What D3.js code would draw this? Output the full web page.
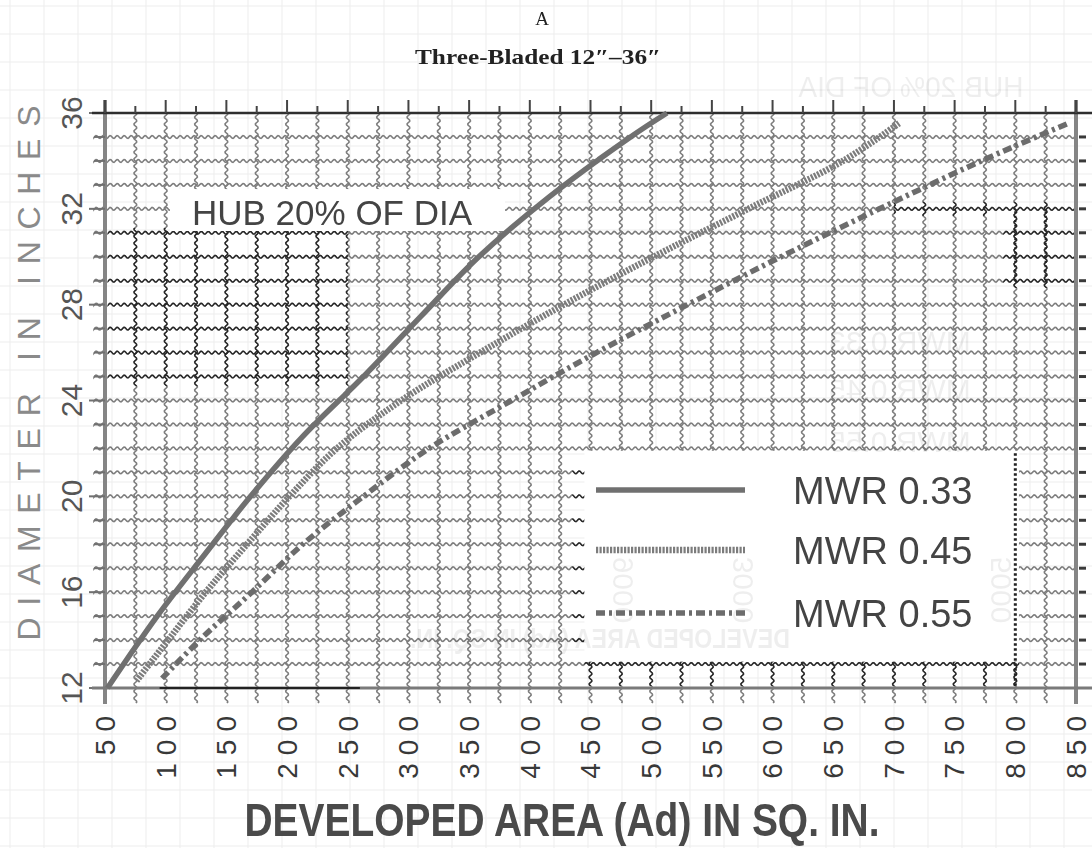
<!DOCTYPE html>
<html>
<head>
<meta charset="utf-8">
<script src="https://cdn.jsdelivr.net/npm/d3@7"></script>
<style>
  html, body { margin: 0; padding: 0; background: #fff; }
  svg { display: block; }
</style>
</head>
<body>
<svg id="chart" width="1092" height="848"></svg>
<script>
// Developed blade area against diameter, three-bladed propellers 12"–36"

// Tick labels
const areaTicks = [50, 100, 150, 200, 250, 300, 350, 400, 450, 500, 550, 600, 650, 700, 750, 800, 850];
const diameterTicks = [12, 16, 20, 24, 28, 32, 36];

// Series: diameter (in) and developed area (sq in) for each mean width ratio
const seriesNames = ["MWR 0.33", "MWR 0.45", "MWR 0.55"];
const mwr033Diameter = [12, 15, 17.5, 20, 22.5, 25, 27.5, 30, 32.5, 35, 36];
const mwr033Area     = [52, 93, 131, 170, 213, 263, 310, 358, 416, 483, 513];
const mwr045Diameter = [12.3, 14, 16, 18, 20, 22, 24, 26, 28, 30, 32, 34, 35.6];
const mwr045Area     = [76, 102, 133, 167, 202, 241, 294, 359, 428, 502, 580, 658, 705];
const mwr055Diameter = [12.4, 14, 16, 18, 20, 22, 24, 26, 28, 30, 32, 34, 35.6];
const mwr055Area     = [97, 128, 171, 213, 263, 317, 385, 455, 530, 607, 688, 772, 845];

const hubNote = "HUB 20% OF DIA";
const titleTop = "A";
const titleSub = "Three-Bladed 12\u2033\u201336\u2033";
const xTitle = "DEVELOPED AREA (Ad) IN SQ. IN.";
const yTitle = "DIAMETER IN  INCHES";

const svg = d3.select("#chart");
const W = 1092, H = 848;
const sans = "'Liberation Sans', Arial, sans-serif";

const x = d3.scaleLinear().domain([50, 850]).range([105, 1076]);
const y = d3.scaleLinear().domain([12, 36]).range([688, 113]);

const gridArea = d3.range(75, 850, 25);
const gridDia = d3.range(13, 36, 1);
const allDia = d3.range(12, 37, 1);
const allArea = d3.range(50, 851, 25);

// wavy line builders for the graph-paper rules
function waveH(y0, xa, xb, amp = 1.4, per = 7) {
  let p = `M${xa},${y0}`;
  for (let xx = xa; xx <= xb; xx += 1) {
    p += `L${xx},${(y0 + amp * Math.sin(2 * Math.PI * xx / per)).toFixed(2)}`;
  }
  return p;
}
function waveV(x0, ya, yb, amp = 1.4, per = 7) {
  let p = `M${x0},${ya}`;
  for (let yy = ya; yy <= yb; yy += 1) {
    p += `L${(x0 + amp * Math.sin(2 * Math.PI * yy / per)).toFixed(2)},${yy}`;
  }
  return p;
}

// faint show-through grid of the page
const ghost = svg.append("g").attr("stroke", "#ededed").attr("stroke-width", 1);
d3.range(6, H, 28).forEach(v => ghost.append("line").attr("x1", 0).attr("x2", W).attr("y1", v).attr("y2", v));
d3.range(10, W, 34).forEach(v => ghost.append("line").attr("y1", 0).attr("y2", H).attr("x1", v).attr("x2", v));

// graph-paper grid
const grid = svg.append("g").attr("fill", "none").attr("stroke", "#7e7e7e").attr("stroke-width", 1.6);
gridDia.forEach(d => grid.append("path").attr("d", waveH(y(d), 94, x(850))));
gridArea.forEach(a => grid.append("path").attr("d", waveV(x(a), y(36), 703)));

// darker inked patches of the grid
const defs = svg.append("defs");
const patches = [
  { id: "darkA", x0: 108, x1: x(250), y0: y(31.2), y1: y(24.6) },
  { id: "darkB", x0: x(790), x1: x(850) - 2, y0: y(32.3), y1: y(28.7) },
  { id: "darkC", x0: x(435), x1: x(445), y0: y(21.8), y1: y(13.2) },
  { id: "darkD", x0: x(445), x1: x(803), y0: y(13.3), y1: y(12) - 2 },
  { id: "darkE", x0: x(700), x1: x(790), y0: y(32.3), y1: y(31.7) }
];
patches.forEach(p => {
  defs.append("clipPath").attr("id", p.id).append("rect")
    .attr("x", p.x0).attr("y", p.y0).attr("width", p.x1 - p.x0).attr("height", p.y1 - p.y0);
  const g = svg.append("g").attr("clip-path", `url(#${p.id})`).attr("fill", "none")
    .attr("stroke", "#262626").attr("stroke-width", 1.3);
  gridDia.forEach(d => g.append("path").attr("d", waveH(y(d), 94, x(850))));
  gridArea.forEach(a => g.append("path").attr("d", waveV(x(a), y(36), 703)));
});

// white label panels
svg.append("rect").attr("x", 170).attr("y", y(32.95) + 3)
  .attr("width", 505 - 170).attr("height", y(30.95) - y(32.95) - 6).attr("fill", "#fff");
svg.append("rect").attr("x", x(445)).attr("y", y(21.9))
  .attr("width", x(803) - x(445)).attr("height", y(13.1) - y(21.9)).attr("fill", "#fff");

// faint mirrored print from the reverse side
const ghostText = svg.append("g").attr("fill", "#000").attr("opacity", 0.07).attr("font-family", sans);
ghostText.append("text").attr("transform", "translate(911,97) scale(-1,1)")
  .attr("text-anchor", "middle").attr("font-size", 30)
  .attr("textLength", 225).attr("lengthAdjust", "spacingAndGlyphs").text(hubNote);
[["MWR 0.33", 352], ["MWR 0.45", 400], ["MWR 0.55", 452]].forEach(([t, yy]) =>
  ghostText.append("text").attr("transform", `translate(900,${yy}) scale(-1,1)`)
    .attr("text-anchor", "middle").attr("font-size", 30).text(t));
[["3000", 742], ["5000", 1000], ["9000", 622]].forEach(([t, xx]) =>
  ghostText.append("text").attr("transform", `translate(${xx},590) rotate(90) scale(1,-1)`)
    .attr("text-anchor", "middle").attr("dy", "0.35em").attr("font-size", 30).text(t));
ghostText.append("text").attr("transform", "translate(600,648) scale(-1,1)")
  .attr("text-anchor", "middle").attr("font-size", 28).attr("font-weight", "bold")
  .attr("textLength", 380).attr("lengthAdjust", "spacingAndGlyphs").text(xTitle);

// dotted rules at 800 and 825 near the legend and the upper right
svg.append("line").attr("x1", x(800)).attr("x2", x(800)).attr("y1", y(21.8)).attr("y2", y(12))
  .attr("stroke", "#222").attr("stroke-width", 3).attr("stroke-dasharray", "2.5 2.5");
[800, 825].forEach(a => svg.append("line").attr("x1", x(a)).attr("x2", x(a)).attr("y1", y(31.9)).attr("y2", y(29))
  .attr("stroke", "#222").attr("stroke-width", 2.2).attr("stroke-dasharray", "2 2.5"));

// left and right frame lines
const frame = svg.append("g").attr("stroke", "#858585").attr("stroke-width", 4);
frame.append("line").attr("x1", x(50)).attr("x2", x(50)).attr("y1", 100).attr("y2", 704);
frame.append("line").attr("x1", x(850)).attr("x2", x(850)).attr("y1", 100).attr("y2", 704);

// left ticks
svg.append("g").attr("stroke", "#707070").attr("stroke-width", 2)
  .selectAll("line").data(allDia).join("line")
  .attr("x1", d => diameterTicks.includes(d) ? 89 : 94).attr("x2", x(50))
  .attr("y1", d => y(d)).attr("y2", d => y(d));
// right ticks
svg.append("g").attr("stroke", "#3a3a3a").attr("stroke-width", 3)
  .selectAll("line").data(allDia.filter(d => d > 12 && d < 36)).join("line")
  .attr("x1", x(850) + 3).attr("x2", x(850) + 10)
  .attr("y1", d => y(d)).attr("y2", d => y(d));

// top rule with ticks
svg.append("line").attr("x1", 92).attr("x2", W).attr("y1", y(36)).attr("y2", y(36))
  .attr("stroke", "#2e2e2e").attr("stroke-width", 2.4);
svg.append("g").attr("stroke", "#444").attr("stroke-width", 2)
  .selectAll("line").data(allArea).join("line")
  .attr("x1", a => x(a)).attr("x2", a => x(a))
  .attr("y1", y(36)).attr("y2", a => y(36) - (a % 50 === 0 ? 13 : 7));

// bottom rule
svg.append("line").attr("x1", 92).attr("x2", W).attr("y1", y(12)).attr("y2", y(12))
  .attr("stroke", "#7a7a7a").attr("stroke-width", 3);
svg.append("line").attr("x1", x(95)).attr("x2", x(260)).attr("y1", y(12)).attr("y2", y(12))
  .attr("stroke", "#222").attr("stroke-width", 2);

// curves
const line = d3.line().x(d => x(d[0])).y(d => y(d[1])).curve(d3.curveCatmullRom.alpha(0.5));
const series = [
  { name: seriesNames[0], pts: d3.zip(mwr033Area, mwr033Diameter), stroke: "#707070", width: 5.5, dash: null },
  { name: seriesNames[1], pts: d3.zip(mwr045Area, mwr045Diameter), stroke: "#7c7c7c", width: 6.5, dash: "2.2 1.3" },
  { name: seriesNames[2], pts: d3.zip(mwr055Area, mwr055Diameter), stroke: "#6c6c6c", width: 5.5, dash: "9 4 3 4" }
];
series.forEach(s => {
  svg.append("path").attr("d", line(s.pts)).attr("fill", "none")
    .attr("stroke", s.stroke).attr("stroke-width", s.width)
    .attr("stroke-dasharray", s.dash);
});

// legend
const legY = [490, 550, 613];
series.forEach((s, i) => {
  svg.append("line").attr("x1", 596).attr("x2", 745).attr("y1", legY[i]).attr("y2", legY[i])
    .attr("stroke", s.stroke).attr("stroke-width", s.width).attr("stroke-dasharray", s.dash);
  svg.append("text").attr("x", 793).attr("y", legY[i]).attr("dy", "0.36em")
    .attr("font-family", sans).attr("font-size", 38)
    .attr("fill", "#444").text(s.name);
});

// hub note
svg.append("text").attr("x", 192).attr("y", y(32) + 16)
  .attr("font-family", sans).attr("font-size", 35)
  .attr("fill", "#444").text(hubNote);

// x tick labels
svg.append("g").selectAll("text").data(areaTicks).join("text")
  .attr("transform", a => `translate(${x(a)},708) rotate(-90)`)
  .attr("text-anchor", "end").attr("dy", "0.35em")
  .attr("font-family", sans).attr("font-size", 28)
  .attr("letter-spacing", 8).attr("fill", "#383838").text(a => a);

// y tick labels
svg.append("g").selectAll("text").data(diameterTicks).join("text")
  .attr("transform", d => `translate(71,${y(d)}) rotate(-90)`)
  .attr("text-anchor", "middle").attr("dy", "0.35em")
  .attr("font-family", sans).attr("font-size", 30)
  .attr("fill", "#555").text(d => d);

// axis titles
svg.append("text").attr("transform", "translate(29,373) rotate(-90)")
  .attr("text-anchor", "middle").attr("dy", "0.35em")
  .attr("font-family", sans).attr("font-size", 32)
  .attr("textLength", 535).attr("lengthAdjust", "spacing")
  .attr("fill", "#8a8a8a").text(yTitle);

svg.append("text").attr("x", 562).attr("y", 836)
  .attr("text-anchor", "middle")
  .attr("font-family", sans).attr("font-weight", "bold").attr("font-size", 46)
  .attr("textLength", 635).attr("lengthAdjust", "spacingAndGlyphs")
  .attr("fill", "#4a4a4a").text(xTitle);

// titles
svg.append("text").attr("x", 542).attr("y", 25).attr("text-anchor", "middle")
  .attr("font-family", "'Liberation Serif', 'Times New Roman', serif").attr("font-size", 19)
  .attr("fill", "#222").text(titleTop);
svg.append("text").attr("x", 538).attr("y", 64).attr("text-anchor", "middle")
  .attr("font-family", "'Liberation Serif', 'Times New Roman', serif").attr("font-weight", "bold").attr("font-size", 21)
  .attr("textLength", 246).attr("lengthAdjust", "spacingAndGlyphs")
  .attr("fill", "#222").text(titleSub);
</script>
</body>
</html>
